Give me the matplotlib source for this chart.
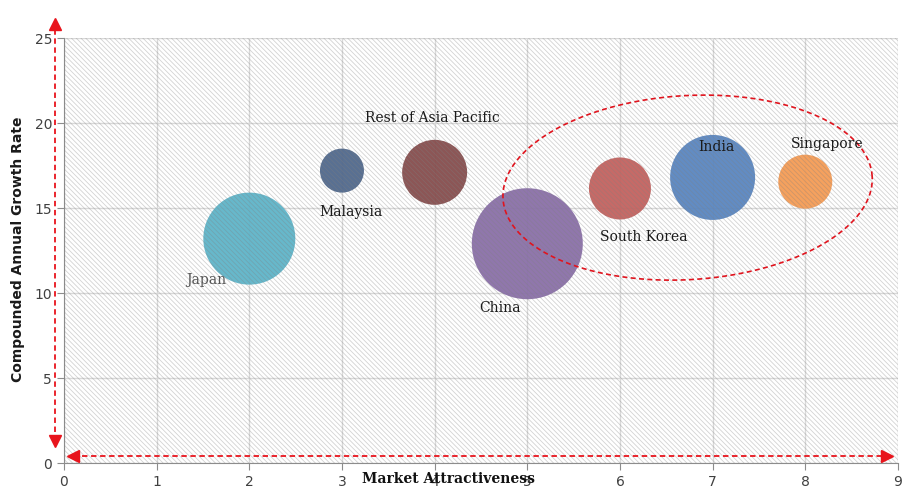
import numpy as np
import matplotlib.pyplot as plt
from matplotlib.patches import Rectangle

# data
countries = ['Japan', 'Malaysia', 'Rest of Asia Pacific', 'China',
             'South Korea', 'India', 'Singapore']
attractiveness = [2, 3, 4, 5, 6, 7, 8]
cagr = [13.2, 17.2, 17.1, 12.9, 16.15, 16.8, 16.55]
bubble_radius = [46, 22, 32.5, 55.5, 31, 42.5, 27]   # relative market size
colors = ['#5fb4c9', '#50688c', '#864d4d', '#8a70a8',
          '#c3625f', '#5a86c0', '#f59c55']

label_x = [1.53, 3.1, 3.98, 4.71, 6.26, 7.04, 8.24]
label_y = [10.76, 14.76, 20.3, 9.1, 13.3, 18.6, 18.76]
label_color = ['#555555', '#1a1a1a', '#1a1a1a', '#1a1a1a', '#1a1a1a', '#1a1a1a', '#1a1a1a']

x_ticks = list(range(0, 10))
y_ticks = [0, 5, 10, 15, 20, 25]

DPI = 100
fig = plt.figure(figsize=(9.22, 4.99), dpi=DPI)
ax = fig.add_axes([0.0694, 0.0721, 0.9045, 0.8517])
ax.set_xlim(0, 9)
ax.set_ylim(0, 25)

# bubbles, s is area in pt^2 (radius given in pixels)
sizes = [(2 * r * 72 / DPI) ** 2 for r in bubble_radius]
ax.scatter(attractiveness, cagr, s=sizes, c=colors, alpha=0.95,
           edgecolors='none', zorder=3)

# hatched background over the whole plot area
plt.rcParams['hatch.linewidth'] = 0.6
ax.add_patch(Rectangle((0, 0), 1, 1, transform=ax.transAxes, facecolor='none',
                       edgecolor=(0.5, 0.5, 0.5, 0.35), hatch='\\' * 7,
                       lw=0, zorder=4))

for name, lx, ly, lc in zip(countries, label_x, label_y, label_color):
    ax.text(lx, ly, name, ha='center', va='center', fontsize=10,
            family='DejaVu Serif', color=lc, zorder=6)

# dashed ellipse around the high growth markets (tilted a little)
sx, sy = 92.7, 17.0   # px per data unit
t = np.linspace(0, 2 * np.pi, 300)
a, b, th = 185, 92, np.radians(3.5)
ex = 6.73 + (a * np.cos(t) * np.cos(th) - b * np.sin(t) * np.sin(th)) / sx
ey = 16.2 + (a * np.cos(t) * np.sin(th) + b * np.sin(t) * np.cos(th)) / sy
ax.plot(ex, ey, color='#e0141e', ls=(0, (3, 2)), lw=1.2, zorder=5)

# red dashed arrows along the axes
red = '#e8141c'
ax.plot([-0.1, -0.1], [1.3, 25.8], color=red, ls=(0, (3, 2)), lw=1.3, clip_on=False, zorder=7)
ax.plot([-0.1], [25.85], marker='^', color=red, ms=8, clip_on=False, zorder=7)
ax.plot([-0.1], [1.3], marker='v', color=red, ms=8, clip_on=False, zorder=7)
ax.plot([0.1, 8.88], [0.41, 0.41], color=red, ls=(0, (3, 2)), lw=1.3, clip_on=False, zorder=7)
ax.plot([0.1], [0.41], marker='<', color=red, ms=8, clip_on=False, zorder=7)
ax.plot([8.88], [0.41], marker='>', color=red, ms=8, clip_on=False, zorder=7)

ax.set_xticks(x_ticks)
ax.set_yticks(y_ticks)
ax.grid(True, color='#d9d9d9', lw=1, zorder=1)
ax.set_axisbelow(True)
for s in ['top', 'right']:
    ax.spines[s].set_visible(False)
for s in ['left', 'bottom']:
    ax.spines[s].set_color('#8c8c8c')
ax.tick_params(colors='#8c8c8c', labelcolor='#404040', labelsize=10, length=5)

fig.text(0.0195, 0.5, 'Compounded Annual Growth Rate', rotation=90, ha='center',
         va='center', fontsize=10, fontweight='bold', color='#1a1a1a')
fig.text(0.486, 0.04, 'Market Attractiveness', ha='center', va='center',
         fontsize=10, fontweight='bold', family='DejaVu Serif', color='#111111')

fig.savefig('out.png', dpi=DPI)
